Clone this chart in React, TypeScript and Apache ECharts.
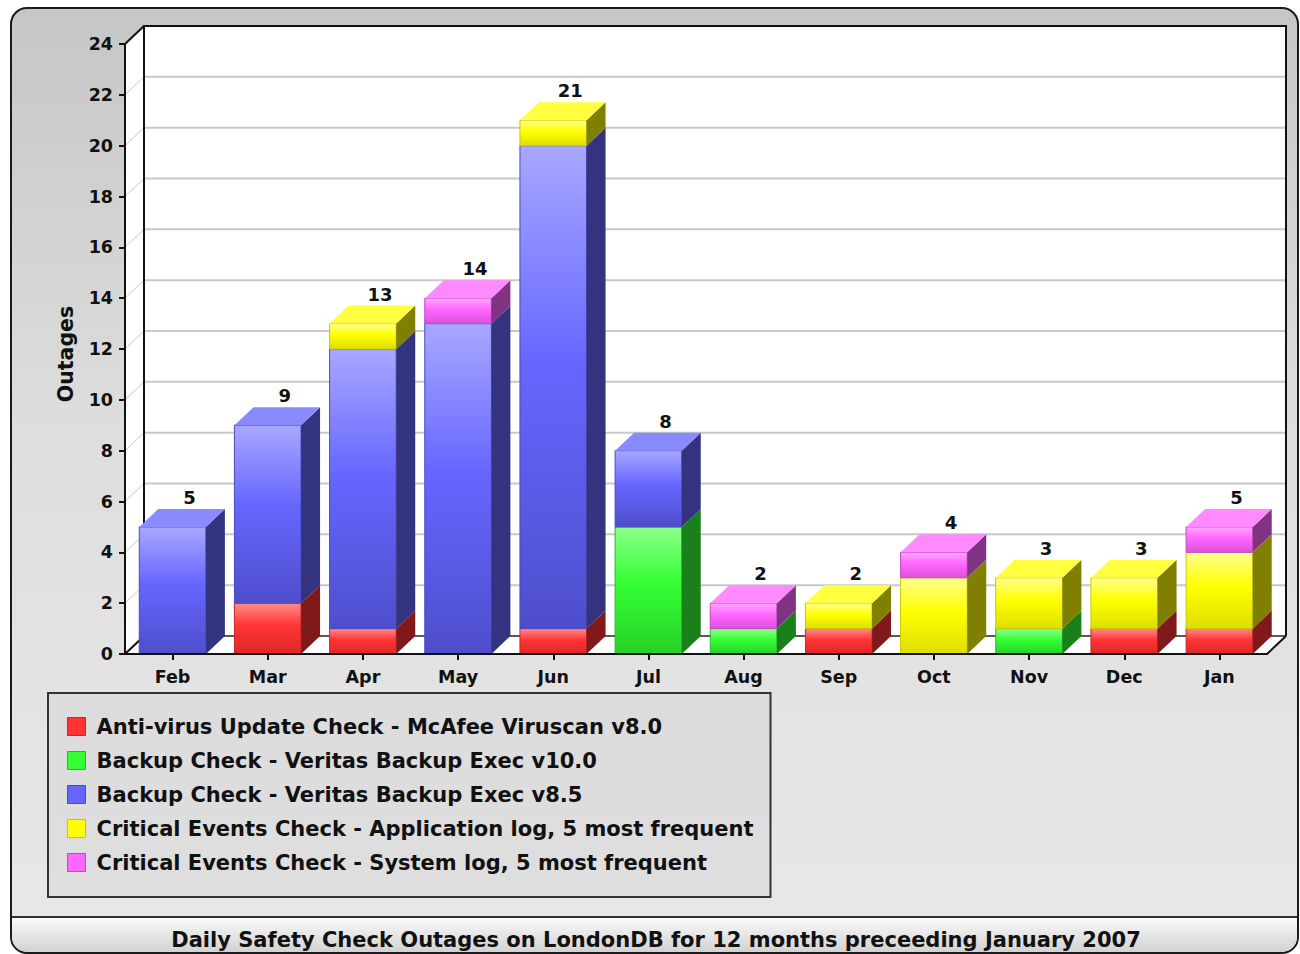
import React, { useEffect, useRef } from "react";
import * as echarts from "echarts";

// ---------------- data ----------------
const MONTHS = ["Feb", "Mar", "Apr", "May", "Jun", "Jul", "Aug", "Sep", "Oct", "Nov", "Dec", "Jan"];
const ANTIVIRUS_V80 = [0, 2, 1, 0, 1, 0, 0, 1, 0, 0, 1, 1];
const BACKUP_V100 = [0, 0, 0, 0, 0, 5, 1, 0, 0, 1, 0, 0];
const BACKUP_V85 = [5, 7, 11, 13, 19, 3, 0, 0, 0, 0, 0, 0];
const APP_LOG = [0, 0, 1, 0, 1, 0, 0, 1, 3, 2, 2, 3];
const SYS_LOG = [0, 0, 0, 1, 0, 0, 1, 0, 1, 0, 0, 1];
const SERIES_NAMES = [
  "Anti-virus Update Check - McAfee Viruscan v8.0",
  "Backup Check - Veritas Backup Exec v10.0",
  "Backup Check - Veritas Backup Exec v8.5",
  "Critical Events Check - Application log, 5 most frequent",
  "Critical Events Check - System log, 5 most frequent",
];
const SERIES_VALUES = [ANTIVIRUS_V80, BACKUP_V100, BACKUP_V85, APP_LOG, SYS_LOG];
const Y_MIN = 0;
const Y_MAX = 24;
const Y_STEP = 2;
const Y_AXIS_NAME = "Outages";
const CHART_TITLE = "Daily Safety Check Outages on LondonDB for 12 months preceeding January 2007";

// ---------------- styles ----------------
const FONT = "'DejaVu Sans', 'Bitstream Vera Sans', sans-serif";
const DX = 19;
const DY = -18;
const PALETTE = [
  { base: "#ff3333", light: "#ff8c8c", dark: "#dc2828", side: "#801a1a", top: "#ff6060", edge: "#c42a2a" },
  { base: "#33ff33", light: "#8cff8c", dark: "#28d028", side: "#1a801a", top: "#66ff66", edge: "#2ab82a" },
  { base: "#6666ff", light: "#a8a8ff", dark: "#4e4ecc", side: "#333380", top: "#8a8aff", edge: "#4a4ac0" },
  { base: "#ffff00", light: "#ffff90", dark: "#dede00", side: "#808000", top: "#ffff40", edge: "#c8c800" },
  { base: "#ff66ff", light: "#ffa8ff", dark: "#dc52dc", side: "#803380", top: "#ff8aff", edge: "#c048c0" },
];

function buildOption() {
  const yTicks: number[] = [];
  for (let v = Y_MIN; v <= Y_MAX; v += Y_STEP) yTicks.push(v);

  const totals = MONTHS.map((_, j) => SERIES_VALUES.reduce((s, arr) => s + arr[j], 0));

  const barSeries = SERIES_VALUES.map((vals, i) => {
    const pal = PALETTE[i];
    const data = MONTHS.map((_, j) => {
      let v0 = 0;
      for (let k = 0; k < i; k++) v0 += SERIES_VALUES[k][j];
      return [j, v0, v0 + vals[j]];
    }).filter((d) => d[2] > d[1]);
    return {
      name: SERIES_NAMES[i],
      type: "custom",
      z: 2 + i * 0.01,
      clip: false,
      silent: true,
      itemStyle: { color: pal.base },
      encode: { x: 0, y: [1, 2] },
      data,
      renderItem: (params: any, api: any) => {
        const cat = api.value(0);
        const v0 = api.value(1);
        const v1 = api.value(2);
        const pb = api.coord([cat, v0]);
        const pt = api.coord([cat, v1]);
        const w = api.size([1, 0])[0] * 0.7;
        const xl = pb[0] - w / 2;
        const xr = pb[0] + w / 2;
        const yb = pb[1];
        const yt = pt[1];
        return {
          type: "group",
          children: [
            {
              type: "rect",
              shape: { x: xl, y: yt, width: w, height: yb - yt },
              style: {
                fill: {
                  type: "linear",
                  x: 0,
                  y: 0,
                  x2: 0,
                  y2: 1,
                  colorStops: [
                    { offset: 0, color: pal.light },
                    { offset: 0.45, color: pal.base },
                    { offset: 1, color: pal.dark },
                  ],
                },
                stroke: pal.edge,
                lineWidth: 1,
              },
            },
            {
              type: "polygon",
              shape: { points: [[xr, yb], [xr + DX, yb + DY], [xr + DX, yt + DY], [xr, yt]] },
              style: { fill: pal.side },
            },
            {
              type: "polygon",
              shape: { points: [[xl, yt], [xl + DX, yt + DY], [xr + DX, yt + DY], [xr, yt]] },
              style: { fill: pal.top },
            },
          ],
        };
      },
    };
  });

  const frameSeries = {
    name: "frame",
    type: "custom",
    z: 1,
    clip: false,
    silent: true,
    data: [[0, 0]],
    encode: { x: 0, y: 1 },
    renderItem: (params: any, api: any) => {
      const cs = params.coordSys;
      const x0 = cs.x;
      const x1 = cs.x + cs.width;
      const y0 = cs.y;
      const y1 = cs.y + cs.height;
      const children: any[] = [];
      children.push({
        type: "rect",
        shape: { x: x0 + DX, y: y0 + DY, width: cs.width, height: cs.height },
        style: { fill: "#ffffff" },
      });
      children.push({
        type: "polygon",
        shape: { points: [[x0, y1], [x0, y0], [x0 + DX, y0 + DY], [x0 + DX, y1 + DY]] },
        style: { fill: "#ffffff" },
      });
      children.push({
        type: "polygon",
        shape: { points: [[x0, y1], [x0 + DX, y1 + DY], [x1 + DX, y1 + DY], [x1, y1]] },
        style: { fill: "#ffffff" },
      });
      yTicks.forEach((v) => {
        const y = api.coord([0, v])[1];
        if (v !== Y_MIN && v !== Y_MAX) {
          children.push({
            type: "line",
            shape: { x1: x0 + DX, y1: y + DY, x2: x1 + DX, y2: y + DY },
            style: { stroke: "#c8c8c8", lineWidth: 2 },
          });
          children.push({
            type: "line",
            shape: { x1: x0, y1: y, x2: x0 + DX, y2: y + DY },
            style: { stroke: "#c8c8c8", lineWidth: 1 },
          });
        }
      });
      const edge = { stroke: "#111111", lineWidth: 2 };
      children.push({
        type: "polyline",
        shape: { points: [[x0 + DX, y1 + DY], [x0 + DX, y0 + DY], [x1 + DX, y0 + DY], [x1 + DX, y1 + DY]] },
        style: { ...edge, fill: null },
      });
      children.push({
        type: "line",
        shape: { x1: x0 + DX, y1: y1 + DY, x2: x1 + DX, y2: y1 + DY },
        style: { stroke: "#222222", lineWidth: 1.5 },
      });
      children.push({ type: "line", shape: { x1: x0, y1: y0, x2: x0 + DX, y2: y0 + DY }, style: edge });
      children.push({ type: "line", shape: { x1: x0, y1: y1, x2: x0 + DX, y2: y1 + DY }, style: edge });
      children.push({ type: "line", shape: { x1: x1, y1: y1, x2: x1 + DX, y2: y1 + DY }, style: edge });
      return { type: "group", children };
    },
  };

  const totalSeries = {
    name: "totals",
    type: "custom",
    z: 3,
    clip: false,
    silent: true,
    encode: { x: 0, y: 1 },
    data: MONTHS.map((_, j) => [j, totals[j]]),
    renderItem: (params: any, api: any) => {
      const p = api.coord([api.value(0), api.value(1)]);
      return {
        type: "text",
        x: p[0] + DX - 2,
        y: p[1] + DY - 11.5,
        style: {
          text: String(api.value(1)),
          fontFamily: FONT,
          fontWeight: "bold",
          fontSize: 18,
          fill: "#111111",
          align: "center",
          verticalAlign: "middle",
        },
      };
    },
  };

  return {
    animation: false,
    grid: { left: 125, right: 33, top: 44, bottom: 300 },
    xAxis: {
      type: "category",
      data: MONTHS,
      z: 10,
      axisLine: { show: true, lineStyle: { color: "#111111", width: 2 } },
      axisTick: { show: true, alignWithLabel: true, length: 6, lineStyle: { color: "#111111", width: 2 } },
      axisLabel: { margin: 14, color: "#111111", fontFamily: FONT, fontWeight: "bold", fontSize: 17.5 },
      splitLine: { show: false },
    },
    yAxis: {
      type: "value",
      min: Y_MIN,
      max: Y_MAX,
      interval: Y_STEP,
      z: 10,
      axisLine: { show: true, lineStyle: { color: "#111111", width: 2 } },
      axisTick: { show: true, length: 6, lineStyle: { color: "#111111", width: 2 } },
      axisLabel: { margin: 12, color: "#111111", fontFamily: FONT, fontWeight: "bold", fontSize: 17.5 },
      splitLine: { show: false },
    },
    legend: {
      orient: "vertical",
      left: 48,
      top: 693,
      data: SERIES_NAMES.map((n, i) => ({
        name: n,
        icon: "rect",
        itemStyle: { color: PALETTE[i].base, borderColor: PALETTE[i].edge, borderWidth: 1 },
      })),
      itemWidth: 18,
      itemHeight: 18,
      itemGap: 13,
      padding: [23, 17, 24, 19],
      borderColor: "#333333",
      borderWidth: 2,
      backgroundColor: "rgba(190,190,190,0.18)",
      selectedMode: false,
      textStyle: {
        color: "#111111",
        fontFamily: FONT,
        fontWeight: "bold",
        fontSize: 21,
        padding: [0, 0, 0, 6],
      },
    },
    graphic: [
      {
        type: "rect",
        z: -10,
        shape: { x: 11, y: 8, width: 1287, height: 945, r: 16 },
        style: {
          fill: {
            type: "linear",
            x: 0,
            y: 0,
            x2: 0,
            y2: 1,
            colorStops: [
              { offset: 0, color: "#c6c6c6" },
              { offset: 0.45, color: "#dedede" },
              { offset: 1, color: "#e8e8e8" },
            ],
          },
          stroke: "#1a1a1a",
          lineWidth: 2,
        },
      },
      {
        type: "rect",
        z: -9,
        shape: { x: 12, y: 918, width: 1285, height: 34, r: [0, 0, 15, 15] },
        style: {
          fill: {
            type: "linear",
            x: 0,
            y: 0,
            x2: 0,
            y2: 1,
            colorStops: [
              { offset: 0, color: "#fafafa" },
              { offset: 1, color: "#d2d2d2" },
            ],
          },
        },
      },
      {
        type: "line",
        z: -8,
        shape: { x1: 12, y1: 917, x2: 1297, y2: 917 },
        style: { stroke: "#333333", lineWidth: 2 },
      },
      {
        type: "text",
        x: 656,
        y: 940,
        style: {
          text: CHART_TITLE,
          fontFamily: FONT,
          fontWeight: "bold",
          fontSize: 21,
          fill: "#111111",
          align: "center",
          verticalAlign: "middle",
        },
      },
      {
        type: "text",
        x: 66,
        y: 354,
        rotation: Math.PI / 2,
        style: {
          text: Y_AXIS_NAME,
          fontFamily: FONT,
          fontWeight: "bold",
          fontSize: 20.5,
          fill: "#111111",
          align: "center",
          verticalAlign: "middle",
        },
      },
    ],
    series: [frameSeries, ...barSeries, totalSeries],
  };
}

export default function App() {
  const ref = useRef<HTMLDivElement>(null);
  useEffect(() => {
    if (!ref.current) return;
    const chart = echarts.init(ref.current, undefined, { renderer: "svg" });
    chart.setOption(buildOption() as any);
    return () => chart.dispose();
  }, []);
  return (
    <div
      ref={ref}
      style={{ position: "absolute", left: 0, top: 0, width: 1300, height: 954, background: "#ffffff" }}
    />
  );
}
